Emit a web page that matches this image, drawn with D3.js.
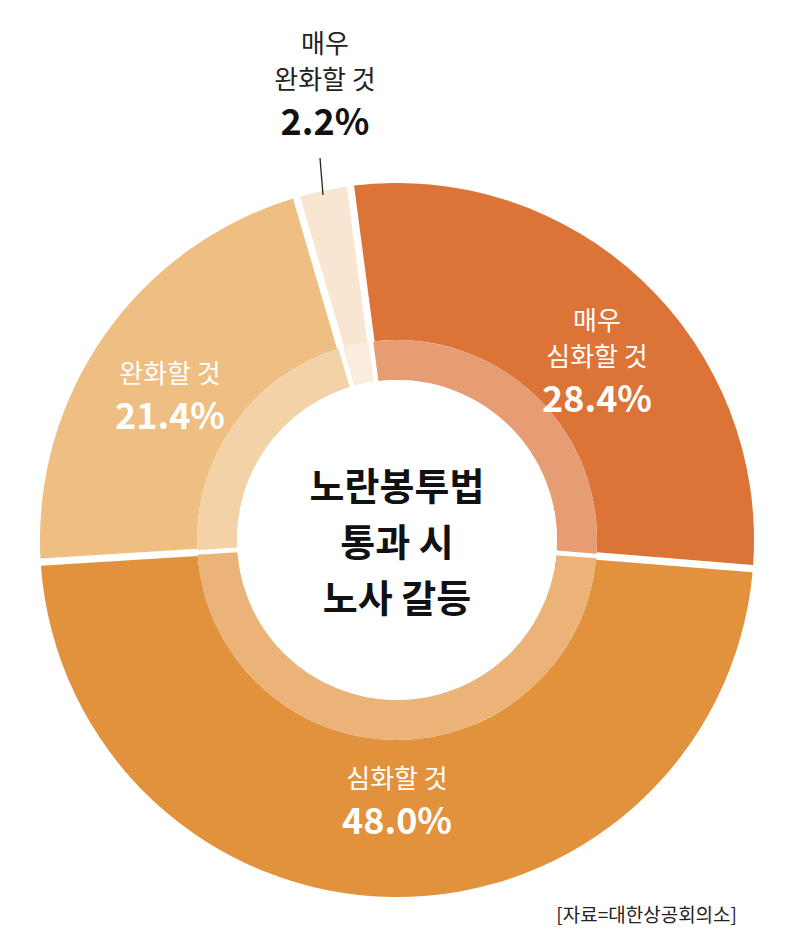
<!DOCTYPE html>
<html><head><meta charset="utf-8">
<script src="https://cdn.jsdelivr.net/npm/d3@7"></script>
<style>body{margin:0;background:#fff}svg{font-family:"Noto Sans CJK KR",sans-serif}</style>
</head><body><svg id="c" width="800" height="944"></svg>
<script>
const categories = ["매우 심화할 것","심화할 것","완화할 것","매우 완화할 것"];
const values = [28.4, 48.0, 21.4, 2.2];
const colors = ["#dc7337","#e2923c","#eebe82","#f8e5d2"];
const labelLines = [["매우","심화할 것"],["심화할 것"],["완화할 것"],["매우","완화할 것"]];

const svg = d3.select("#c");
const cx = 397, cy = 540;
const g = svg.append("g").attr("transform",`translate(${cx},${cy})`);
const start = -7.5*Math.PI/180;
const pie = d3.pie().sort(null).startAngle(start).endAngle(start+2*Math.PI).padAngle(0.018);
const arcs = pie(values);
const outer = d3.arc().innerRadius(200).outerRadius(357);
const inner = d3.arc().innerRadius(160).outerRadius(200);

g.selectAll(".o").data(arcs).join("path").attr("d",outer).attr("fill",(d,i)=>colors[i]);
g.selectAll(".i").data(arcs).join("path").attr("d",inner)
  .attr("fill",(d,i)=>d3.interpolateRgb(colors[i],"#fff")(0.3));
g.append("circle").attr("r",160).attr("fill","#fff");

["노란봉투법","통과 시","노사 갈등"].forEach((t,i)=>{
  g.append("text").attr("y",-40+i*56).attr("text-anchor","middle")
   .attr("font-size",38).attr("font-weight",700).attr("fill","#111").text(t);
});

const pos = [[200,-210],[0,248],[-227,-157]];
const lh = 36;
arcs.slice(0,3).forEach((d,i)=>{
  const [x,y] = pos[i];
  const lines = labelLines[i];
  lines.forEach((l,j)=>{
    g.append("text").attr("x",x).attr("y",y+j*lh).attr("text-anchor","middle")
     .attr("font-size",26).attr("fill","#fff").text(l);
  });
  g.append("text").attr("x",x).attr("y",y+(lines.length-1)*lh+46).attr("text-anchor","middle")
   .attr("font-size",36).attr("font-weight",700).attr("fill","#fff").text(values[i].toFixed(1)+"%");
});

const sx = -72;
labelLines[3].forEach((l,j)=>{
  g.append("text").attr("x",sx).attr("y",-487+j*lh).attr("text-anchor","middle")
   .attr("font-size",26).attr("fill","#222").text(l);
});
g.append("text").attr("x",sx).attr("y",-405).attr("text-anchor","middle")
 .attr("font-size",36).attr("font-weight",700).attr("fill","#111").text(values[3].toFixed(1)+"%");
g.append("line").attr("x1",-77).attr("y1",-382).attr("x2",-74).attr("y2",-345)
 .attr("stroke","#222").attr("stroke-width",1.3);

svg.append("text").attr("x",737).attr("y",922).attr("text-anchor","end")
 .attr("font-size",19).attr("fill","#222").text("[자료=대한상공회의소]");
</script></body></html>
